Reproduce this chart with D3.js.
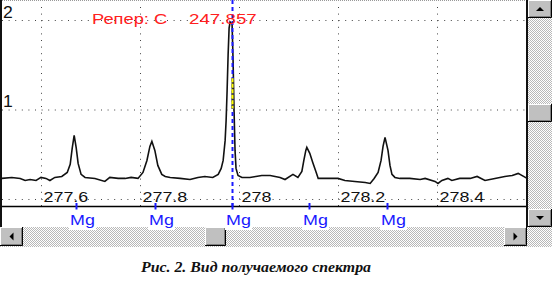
<!DOCTYPE html>
<html><head><meta charset="utf-8">
<script src="https://cdn.jsdelivr.net/npm/d3@7"></script>
<style>body{margin:0;background:#fff;overflow:hidden}</style>
</head><body><svg id="c" width="552" height="290"></svg>
<script>
// ---- data ----
const wavelength = [277.521,277.541,277.558,277.568,277.578,277.590,277.600,277.610,277.618,277.628,277.642,277.653,277.659,277.663,277.667,277.671,277.675,277.681,277.689,277.709,277.729,277.739,277.756,277.770,277.782,277.796,277.806,277.814,277.820,277.824,277.830,277.836,277.844,277.851,277.861,277.881,277.901,277.917,277.931,277.947,277.958,277.964,277.968,277.972,277.974,277.976,277.978,277.980,277.982,277.986,277.988,277.990,277.992,277.994,277.998,278.006,278.022,278.034,278.046,278.063,278.083,278.093,278.109,278.119,278.127,278.131,278.135,278.137,278.143,278.149,278.156,278.160,278.200,278.214,278.234,278.255,278.265,278.273,278.281,278.287,278.291,278.295,278.301,278.305,278.309,278.315,278.325,278.345,278.366,278.376,278.396,278.402,278.410,278.422,278.430,278.446,278.467,278.481,278.497,278.517,278.537,278.552,278.564,278.582];
const intensity = [0.230,0.241,0.230,0.207,0.218,0.207,0.241,0.230,0.207,0.241,0.252,0.297,0.387,0.566,0.711,0.577,0.398,0.275,0.241,0.230,0.196,0.241,0.230,0.230,0.241,0.230,0.297,0.431,0.588,0.644,0.543,0.375,0.275,0.252,0.241,0.230,0.218,0.241,0.252,0.241,0.275,0.342,0.431,0.655,0.880,1.216,1.608,1.910,1.978,1.955,1.552,0.992,0.543,0.342,0.263,0.241,0.241,0.252,0.263,0.263,0.241,0.218,0.275,0.241,0.308,0.431,0.543,0.577,0.510,0.409,0.297,0.230,0.230,0.207,0.196,0.185,0.174,0.230,0.297,0.431,0.588,0.689,0.543,0.375,0.275,0.241,0.230,0.230,0.218,0.230,0.196,0.174,0.207,0.230,0.207,0.230,0.230,0.252,0.207,0.230,0.252,0.263,0.286,0.230];
const xTicks = [277.6, 277.8, 278.0, 278.2, 278.4];
const xTickLabels = ["277.6", "277.8", "278", "278.2", "278.4"];
const yTicks = [0, 1, 2];
const yTickLabels = ["", "1", "2"];
const mgLines = [277.670, 277.830, 277.986, 278.141, 278.299];
const mgLabels = ["Mg", "Mg", "Mg", "Mg", "Mg"];
const referenceLine = 277.986;
const referenceTexts = ["Репер: C", "247.857"];
const highlightRange = [1.01, 1.35];
const caption = "Рис. 2. Вид получаемого спектра";

// ---- drawing ----
const svg = d3.select("#c");
const x = d3.scaleLinear().domain([277.6, 278.4]).range([41, 437]);
const y = d3.scaleLinear().domain([0, 2]).range([199, 20]);
const sans = "'Liberation Sans', Arial, sans-serif";

const defs = svg.append("defs");
const pat = defs.append("pattern").attr("id", "chk").attr("width", 2).attr("height", 2).attr("patternUnits", "userSpaceOnUse");
pat.append("rect").attr("width", 2).attr("height", 2).attr("fill", "#ffffff");
pat.append("rect").attr("width", 1).attr("height", 1).attr("fill", "#b8b8b8");
pat.append("rect").attr("x", 1).attr("y", 1).attr("width", 1).attr("height", 1).attr("fill", "#b8b8b8");

svg.append("rect").attr("width", 552).attr("height", 290).attr("fill", "#fff");

// top dotted border
svg.append("line").attr("x1", 2).attr("x2", 527).attr("y1", 0.5).attr("y2", 0.5)
  .attr("stroke", "#999").attr("stroke-dasharray", "1,1");

// gridlines + tick labels via axes
const gx = svg.append("g").attr("transform", "translate(0,206)")
  .call(d3.axisBottom(x).tickValues(xTicks).tickSize(-204).tickFormat((d, i) => xTickLabels[i]));
gx.select(".domain").remove();
gx.selectAll(".tick line").attr("stroke", "#444").attr("stroke-dasharray", "1,5.6").attr("y2", -204);
gx.selectAll(".tick text").attr("y", null).attr("dy", null).attr("text-anchor", "start")
  .attr("transform", "translate(2,-4.5) scale(1.28,1)")
  .attr("font-family", sans).attr("font-size", 14).attr("fill", "#111");

const gy = svg.append("g").attr("transform", "translate(2,0)")
  .call(d3.axisLeft(y).tickValues(yTicks).tickSize(-525).tickFormat((d, i) => yTickLabels[i]));
gy.select(".domain").remove();
gy.selectAll(".tick line").attr("stroke", "#444").attr("stroke-dasharray", "1,5.6");
gy.selectAll(".tick text").attr("x", null).attr("dy", null).attr("text-anchor", "start")
  .attr("transform", "translate(1,-3) scale(1.1,1)")
  .attr("font-family", sans).attr("font-size", 16).attr("fill", "#111");

// spectrum
const pts = wavelength.map((w, i) => [w, intensity[i]]);
svg.append("path").datum(pts)
  .attr("d", d3.line().x(d => x(d[0])).y(d => y(d[1])))
  .attr("fill", "none").attr("stroke", "#111").attr("stroke-width", 1.6);

// reference dashed line
const rx = Math.round(x(referenceLine)) + 0.5;
svg.append("line").attr("x1", rx).attr("x2", rx).attr("y1", 0).attr("y2", 206)
  .attr("stroke", "#1a1aff").attr("stroke-width", 2).attr("stroke-dasharray", "4,3");
svg.append("line").attr("x1", rx).attr("x2", rx).attr("y1", y(highlightRange[1])).attr("y2", y(highlightRange[0]))
  .attr("stroke", "#333").attr("stroke-width", 2);
svg.append("line").attr("x1", rx).attr("x2", rx).attr("y1", y(highlightRange[1])).attr("y2", y(highlightRange[0]))
  .attr("stroke", "#ffff00").attr("stroke-width", 2).attr("stroke-dasharray", "4,1.5");

// reference text
svg.append("text").attr("transform", "translate(92,24) scale(1.22,1)")
  .attr("font-family", sans).attr("font-size", 15).attr("fill", "#ff2020").text(referenceTexts[0]);
svg.append("text").attr("transform", "translate(189,24) scale(1.25,1)")
  .attr("font-family", sans).attr("font-size", 15).attr("fill", "#ff2020").text(referenceTexts[1]);

// separator line and borders
svg.append("line").attr("x1", 0).attr("x2", 527).attr("y1", 206.5).attr("y2", 206.5).attr("stroke", "#000").attr("stroke-width", 1.3);
svg.append("rect").attr("x", 0).attr("y", 0).attr("width", 2).attr("height", 228).attr("fill", "#111");
svg.append("rect").attr("x", 526).attr("y", 0).attr("width", 2).attr("height", 228).attr("fill", "#111");

// Mg ticks
svg.append("g").selectAll("line").data(mgLines).join("line")
  .attr("x1", d => Math.round(x(d)) + 0.5).attr("x2", d => Math.round(x(d)) + 0.5)
  .attr("y1", 203).attr("y2", 209.5).attr("stroke", "#1a1aff").attr("stroke-width", 2);

// scrollbars
function button(g, bx, by, w, h, dir) {
  g.append("rect").attr("x", bx).attr("y", by).attr("width", w).attr("height", h).attr("fill", "#c0c0c0");
  g.append("path").attr("d", `M${bx+0.5},${by+h-1}V${by+0.5}H${bx+w-1}`).attr("stroke", "#fff").attr("fill", "none");
  g.append("path").attr("d", `M${bx+1.5},${by+h-1.5}H${bx+w-1.5}V${by+1}`).attr("stroke", "#808080").attr("fill", "none");
  g.append("path").attr("d", `M${bx},${by+h-0.5}H${bx+w-0.5}V${by}`).attr("stroke", "#000").attr("fill", "none");
  if (!dir) return;
  const cx = bx + w / 2, cy = by + h / 2;
  let d;
  if (dir === "up") d = `M${cx-4},${cy+2}L${cx+4},${cy+2}L${cx},${cy-2}Z`;
  if (dir === "down") d = `M${cx-4},${cy-2}L${cx+4},${cy-2}L${cx},${cy+2}Z`;
  if (dir === "left") d = `M${cx+2},${cy-4}L${cx+2},${cy+4}L${cx-2},${cy}Z`;
  if (dir === "right") d = `M${cx-2},${cy-4}L${cx-2},${cy+4}L${cx+2},${cy}Z`;
  g.append("path").attr("d", d).attr("fill", "#000");
}
const sb = svg.append("g");
sb.append("rect").attr("x", 528).attr("y", 0).attr("width", 24).attr("height", 247).attr("fill", "url(#chk)");
sb.append("rect").attr("x", 0).attr("y", 227).attr("width", 528).attr("height", 20).attr("fill", "url(#chk)");
button(sb, 528, 0, 24, 18, "up");
button(sb, 528, 104, 24, 18, null);
button(sb, 528, 209, 24, 18, "down");
button(sb, 0, 227, 23, 19, "left");
button(sb, 205, 227, 21, 19, null);
button(sb, 504, 227, 23, 19, "right");

// Mg labels
const ml = svg.append("g").selectAll("g").data(mgLines).join("g")
  .attr("transform", d => `translate(${Math.round(x(d)) - 6},225)`);
ml.append("rect").attr("x", -1).attr("y", -12).attr("width", 27).attr("height", 17).attr("fill", "#fff");
ml.append("text").attr("transform", "scale(1.28,1)")
  .attr("font-family", sans).attr("font-size", 14).attr("fill", "#1a1aff").text((d, i) => mgLabels[i]);

// caption
svg.append("text").attr("x", 141).attr("y", 272).attr("textLength", 230).attr("lengthAdjust", "spacingAndGlyphs")
  .attr("font-family", "'Liberation Serif', 'Times New Roman', serif").attr("font-weight", "bold")
  .attr("font-style", "italic").attr("font-size", 14).attr("fill", "#111").text(caption);
</script></body></html>
